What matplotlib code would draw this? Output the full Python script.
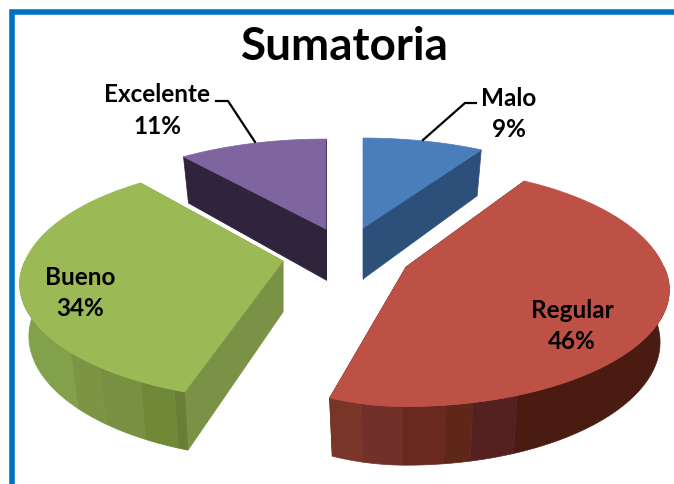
import numpy as np
import matplotlib
matplotlib.use('Agg')
import matplotlib.pyplot as plt
from matplotlib.patches import Polygon

categories = ['Malo', 'Regular', 'Bueno', 'Excelente']
values = [9, 46, 34, 11]
title = 'Sumatoria'

# slice layout in pixels, the pie is exploded so every slice has its own apex
apex_x = [363, 406, 283, 326]
apex_y = [229, 268, 262, 230]
back_gain = [1.0, 1.1, 1.08, 1.0]
left_gain = [1.0, 0.776, 1.0, 1.0]
top_colors = ['#4a7ebb', '#be5146', '#9bb955', '#7f659f']
wall_colors = ['#2c5079', '#4a1c11', '#7a9245', '#30233c']

# stripes on the rounded outer wall, (angle where the stripe ends, colour)
stripes = {
    1: [(159.5, '#4a1c11'), (168, '#552020'), (173, '#5f2718'), (181, '#6a2820'),
        (190.5, '#72302b'), (198, '#7a3529')],
    2: [(200, '#6a7d36'), (207, '#708939'), (216.6, '#779042'), (225, '#7b9545'),
        (270, '#82a14a')],
}

label_pos = [(509, 99, 130), (572, 311, 342), (80, 278, 309), (157, 95, 126)]
leaders = {
    0: ([476, 465, 423], [104, 104, 141]),
    3: ([216, 228, 255], [102, 102, 143]),
}

RX, RY, DEPTH = 258, 109.4, 51


def project(i, ang, bottom=False):
    # ang in degrees, clockwise from 12 o'clock
    a = np.radians(ang)
    x, y = np.sin(a), np.cos(a)
    wx = 1 + 0.2 * y
    wy = 1 + 0.216 * y
    ygain = np.where(y > 0, back_gain[i], 1.0)
    xgain = np.where(x < 0, left_gain[i], 1.0)
    rx = RX * (0.965 if bottom else 1.0)
    sx = apex_x[i] + rx * xgain * x / wx
    sy = apex_y[i] - RY * ygain * y / wy
    if bottom:
        sy = sy + DEPTH / (1 + 0.13 * y)
    return sx, sy


def apex(i, bottom=False):
    return apex_x[i], apex_y[i] + (DEPTH if bottom else 0)


fig = plt.figure(figsize=(6.74, 4.85), dpi=100)
ax = fig.add_axes([0, 0, 1, 1])
ax.set_xlim(0, 674)
ax.set_ylim(485, 0)
ax.axis('off')
plt.rcParams['font.family'] = ['Lato', 'DejaVu Sans']

# frame, only top and left are inside the picture
ax.plot([11.5, 11.5, 674], [485, 12.5, 12.5], color='#0070c0', lw=4, solid_joinstyle='miter')

edges = np.concatenate([[0], np.cumsum(values)]) / np.sum(values) * 360


def draw_slice(i):
    start, end = edges[i], edges[i + 1]
    # flat cut walls that face the viewer
    for ang in (start, end):
        ex, ey = project(i, ang)
        bx, by = project(i, ang, bottom=True)
        a0, a1 = apex(i), apex(i, bottom=True)
        ax.add_patch(Polygon([a0, (ex, ey), (bx, by), a1], fc=wall_colors[i], ec=wall_colors[i], lw=0.5))
    # rounded outer wall
    if i in stripes:
        s0 = max(start, 90)
        for stop, col in stripes[i]:
            th = np.linspace(s0, stop, 30)
            tx, ty = project(i, th)
            bx, by = project(i, th, bottom=True)
            pts = np.r_[np.c_[tx, ty], np.c_[bx, by][::-1]]
            ax.add_patch(Polygon(pts, fc=col, ec=col, lw=0.5))
            s0 = stop
    # top face
    th = np.linspace(start, end, 120)
    tx, ty = project(i, th)
    pts = np.r_[[apex(i)], np.c_[tx, ty]]
    ax.add_patch(Polygon(pts, fc=top_colors[i], ec=top_colors[i], lw=0.5))


# back slices first
for i in [3, 0, 2, 1]:
    draw_slice(i)

for i, (xs, ys) in leaders.items():
    ax.plot(xs, ys, color='black', lw=1.6)

for i, name in enumerate(categories):
    lx, y1, y2 = label_pos[i]
    ax.text(lx, y1, name, ha='center', va='center', fontsize=17.5, fontweight='bold', color='black')
    ax.text(lx, y2, f'{values[i]}%', ha='center', va='center', fontsize=17.5, fontweight='bold', color='black')

ax.text(345, 47, title, ha='center', va='center', fontsize=33, fontweight='bold', color='black')

fig.savefig('out.png', dpi=100, facecolor='white')
